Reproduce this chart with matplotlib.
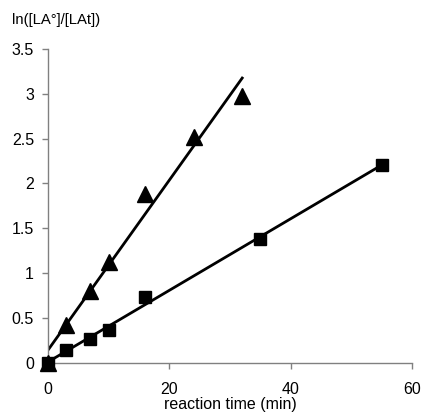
import matplotlib
matplotlib.use('Agg')
import matplotlib.pyplot as plt
import numpy as np

plt.rcParams['font.family'] = ['Liberation Sans', 'DejaVu Sans']

# triangles (faster series)
tri_t = [0, 3, 7, 10, 16, 24, 32]
tri_y = [0, 0.42, 0.80, 1.12, 1.88, 2.52, 2.98]
# squares (slower series)
sq_t = [0, 3, 7, 10, 16, 35, 55]
sq_y = [0, 0.15, 0.27, 0.37, 0.73, 1.38, 2.21]

x_ticks = [0, 20, 40, 60]
y_ticks = [0, 0.5, 1, 1.5, 2, 2.5, 3, 3.5]
y_tick_labels = ['0', '0.5', '1', '1.5', '2', '2.5', '3', '3.5']

fig = plt.figure(figsize=(4.22, 4.15), dpi=100)
ax = fig.add_axes([0.1137, 0.1253, 0.863, 0.757])

for t, y, m, ms in [(tri_t, tri_y, '^', 11), (sq_t, sq_y, 's', 8.5)]:
    k, b = np.polyfit(t, y, 1)
    xx = np.array([0, max(t)])
    ax.plot(xx, k * xx + b, color='black', lw=2, zorder=2)
    ax.plot(t, y, linestyle='none', marker=m, markersize=ms,
            color='black', zorder=3, clip_on=False)

ax.set_xlim(0, 60)
ax.set_ylim(0, 3.5)
ax.set_xticks(x_ticks)
ax.set_yticks(y_ticks)
ax.set_yticklabels(y_tick_labels)
ax.spines['top'].set_visible(False)
ax.spines['right'].set_visible(False)
for s in ('left', 'bottom'):
    ax.spines[s].set_color('#808080')
    ax.spines[s].set_linewidth(1)
ax.tick_params(colors='#808080', labelcolor='black', labelsize=11.5,
               length=4, width=1, direction='out')
ax.tick_params(axis='x', pad=10)
ax.tick_params(axis='y', pad=6)

ax.set_xlabel('reaction time (min)', fontsize=11.5, labelpad=0)
fig.text(0.028, 0.952, 'ln([LA°]/[LAt])', fontsize=10.7, ha='left', va='center')

fig.savefig('out.png', dpi=100)
